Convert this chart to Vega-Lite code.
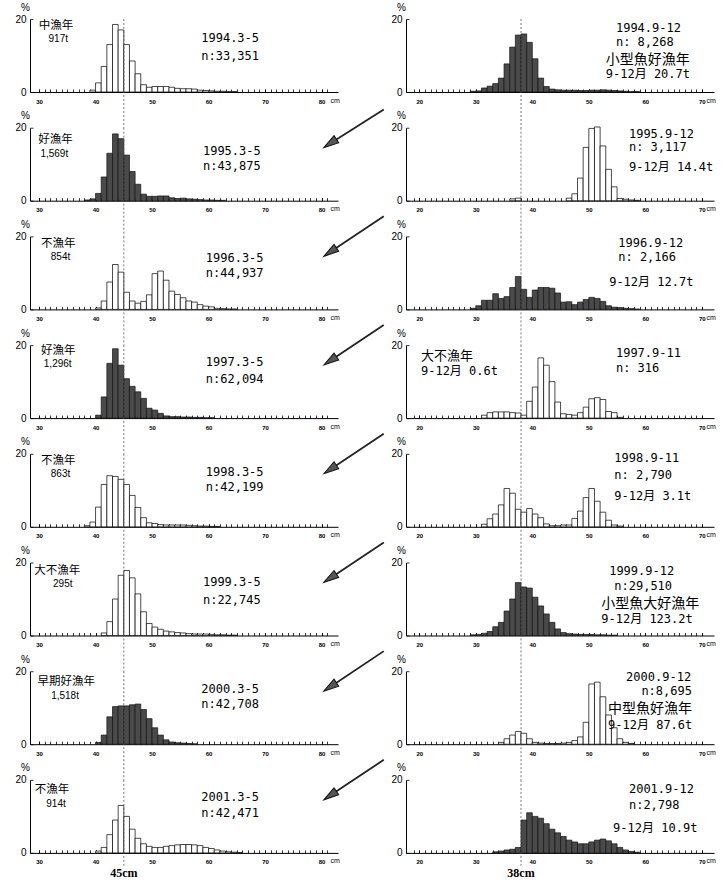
{
"$schema": "https://vega.github.io/schema/vega-lite/v6.json",
"background": "white",
"padding": {"left": 14, "top": 2, "right": 5, "bottom": 5},
"columns": 2,
"spacing": {"row": 35.7, "column": 68},
"bounds": "flush",
"config": {
 "view": {"stroke": null},
 "axis": {"grid": false, "domainColor": "black", "domainWidth": 1, "tickColor": "black", "tickWidth": 0.8, "labelColor": "black", "titleColor": "black", "labelFont": "Liberation Sans", "titleFont": "Liberation Sans"},
 "axisX": {"tickSize": -3, "labelFontSize": 6, "labelFontWeight": "bold", "labelPadding": 9, "titleFontSize": 7, "titleFontWeight": "normal"},
 "axisY": {"tickSize": -3, "labelFontSize": 10, "labelPadding": 7, "titleFontSize": 10, "titleFontWeight": "normal"},
 "text": {"font": "DejaVu Sans Mono, Noto Sans CJK JP", "fontSize": 12, "align": "left", "baseline": "middle", "color": "black"}
},
"datasets": {"bars": [
{"p":"L1","cm":39,"v":0.5},{"p":"L1","cm":40,"v":2.5},{"p":"L1","cm":41,"v":7},{"p":"L1","cm":42,"v":13},{"p":"L1","cm":43,"v":18.5},{"p":"L1","cm":44,"v":17},{"p":"L1","cm":45,"v":13},{"p":"L1","cm":46,"v":8.5},{"p":"L1","cm":47,"v":5},{"p":"L1","cm":48,"v":2},{"p":"L1","cm":49,"v":1.3},{"p":"L1","cm":50,"v":1.5},{"p":"L1","cm":51,"v":1.5},{"p":"L1","cm":52,"v":1.5},{"p":"L1","cm":53,"v":1.3},{"p":"L1","cm":54,"v":1},{"p":"L1","cm":55,"v":0.9},{"p":"L1","cm":56,"v":0.9},{"p":"L1","cm":57,"v":0.8},{"p":"L1","cm":58,"v":0.5},{"p":"L1","cm":59,"v":0.4},{"p":"L1","cm":60,"v":0.3},{"p":"L1","cm":61,"v":0.2},{"p":"L1","cm":62,"v":0.2},{"p":"L1","cm":63,"v":0.1},{"p":"L1","cm":64,"v":0.1},
{"p":"L2","cm":38,"v":0.2},{"p":"L2","cm":39,"v":0.5},{"p":"L2","cm":40,"v":2},{"p":"L2","cm":41,"v":6.5},{"p":"L2","cm":42,"v":13},{"p":"L2","cm":43,"v":18.3},{"p":"L2","cm":44,"v":17},{"p":"L2","cm":45,"v":12.5},{"p":"L2","cm":46,"v":8},{"p":"L2","cm":47,"v":4.5},{"p":"L2","cm":48,"v":1.8},{"p":"L2","cm":49,"v":1.2},{"p":"L2","cm":50,"v":1.2},{"p":"L2","cm":51,"v":1.3},{"p":"L2","cm":52,"v":1.3},{"p":"L2","cm":53,"v":0.8},{"p":"L2","cm":54,"v":0.6},{"p":"L2","cm":55,"v":0.7},{"p":"L2","cm":56,"v":0.5},{"p":"L2","cm":57,"v":0.4},{"p":"L2","cm":58,"v":0.3},{"p":"L2","cm":59,"v":0.2},{"p":"L2","cm":60,"v":0.2},{"p":"L2","cm":61,"v":0.1},{"p":"L2","cm":62,"v":0.1},
{"p":"L3","cm":40,"v":0.4},{"p":"L3","cm":41,"v":2.3},{"p":"L3","cm":42,"v":7.5},{"p":"L3","cm":43,"v":12.3},{"p":"L3","cm":44,"v":10.2},{"p":"L3","cm":45,"v":4.7},{"p":"L3","cm":46,"v":2.3},{"p":"L3","cm":47,"v":1.7},{"p":"L3","cm":48,"v":2.2},{"p":"L3","cm":49,"v":4},{"p":"L3","cm":50,"v":9.8},{"p":"L3","cm":51,"v":10.5},{"p":"L3","cm":52,"v":8},{"p":"L3","cm":53,"v":5},{"p":"L3","cm":54,"v":4.1},{"p":"L3","cm":55,"v":3.2},{"p":"L3","cm":56,"v":2.3},{"p":"L3","cm":57,"v":2},{"p":"L3","cm":58,"v":1.3},{"p":"L3","cm":59,"v":0.9},{"p":"L3","cm":60,"v":0.7},{"p":"L3","cm":61,"v":0.3},{"p":"L3","cm":62,"v":0.2},{"p":"L3","cm":63,"v":0.1},{"p":"L3","cm":64,"v":0.1},
{"p":"L4","cm":40,"v":0.8},{"p":"L4","cm":41,"v":5.8},{"p":"L4","cm":42,"v":15},{"p":"L4","cm":43,"v":19},{"p":"L4","cm":44,"v":14.5},{"p":"L4","cm":45,"v":10.8},{"p":"L4","cm":46,"v":8.7},{"p":"L4","cm":47,"v":7.2},{"p":"L4","cm":48,"v":5.4},{"p":"L4","cm":49,"v":2.7},{"p":"L4","cm":50,"v":2.2},{"p":"L4","cm":51,"v":1.3},{"p":"L4","cm":52,"v":0.6},{"p":"L4","cm":53,"v":0.4},{"p":"L4","cm":54,"v":0.4},{"p":"L4","cm":55,"v":0.3},{"p":"L4","cm":56,"v":0.3},{"p":"L4","cm":57,"v":0.2},{"p":"L4","cm":58,"v":0.2},{"p":"L4","cm":59,"v":0.1},{"p":"L4","cm":60,"v":0.1},
{"p":"L5","cm":38,"v":0.3},{"p":"L5","cm":39,"v":1.3},{"p":"L5","cm":40,"v":5.4},{"p":"L5","cm":41,"v":11.6},{"p":"L5","cm":42,"v":14},{"p":"L5","cm":43,"v":13.8},{"p":"L5","cm":44,"v":13},{"p":"L5","cm":45,"v":11.6},{"p":"L5","cm":46,"v":8.6},{"p":"L5","cm":47,"v":5.3},{"p":"L5","cm":48,"v":2.5},{"p":"L5","cm":49,"v":1.1},{"p":"L5","cm":50,"v":0.9},{"p":"L5","cm":51,"v":0.6},{"p":"L5","cm":52,"v":0.5},{"p":"L5","cm":53,"v":0.5},{"p":"L5","cm":54,"v":0.5},{"p":"L5","cm":55,"v":0.5},{"p":"L5","cm":56,"v":0.4},{"p":"L5","cm":57,"v":0.3},{"p":"L5","cm":58,"v":0.2},{"p":"L5","cm":59,"v":0.2},{"p":"L5","cm":60,"v":0.1},{"p":"L5","cm":61,"v":0.1},
{"p":"L6","cm":41,"v":0.7},{"p":"L6","cm":42,"v":3.8},{"p":"L6","cm":43,"v":10},{"p":"L6","cm":44,"v":16.5},{"p":"L6","cm":45,"v":17.8},{"p":"L6","cm":46,"v":15.8},{"p":"L6","cm":47,"v":11.4},{"p":"L6","cm":48,"v":6.5},{"p":"L6","cm":49,"v":3.3},{"p":"L6","cm":50,"v":2.3},{"p":"L6","cm":51,"v":1.7},{"p":"L6","cm":52,"v":1.2},{"p":"L6","cm":53,"v":1},{"p":"L6","cm":54,"v":0.8},{"p":"L6","cm":55,"v":0.7},{"p":"L6","cm":56,"v":0.5},{"p":"L6","cm":57,"v":0.4},{"p":"L6","cm":58,"v":0.4},{"p":"L6","cm":59,"v":0.4},{"p":"L6","cm":60,"v":0.3},{"p":"L6","cm":61,"v":0.2},{"p":"L6","cm":62,"v":0.2},{"p":"L6","cm":63,"v":0.1},{"p":"L6","cm":64,"v":0.1},
{"p":"L7","cm":40,"v":0.5},{"p":"L7","cm":41,"v":2.5},{"p":"L7","cm":42,"v":7.5},{"p":"L7","cm":43,"v":10.3},{"p":"L7","cm":44,"v":10.5},{"p":"L7","cm":45,"v":10.5},{"p":"L7","cm":46,"v":10.8},{"p":"L7","cm":47,"v":11},{"p":"L7","cm":48,"v":9.5},{"p":"L7","cm":49,"v":7},{"p":"L7","cm":50,"v":4.5},{"p":"L7","cm":51,"v":2.5},{"p":"L7","cm":52,"v":1.2},{"p":"L7","cm":53,"v":0.6},{"p":"L7","cm":54,"v":0.4},{"p":"L7","cm":55,"v":0.3},{"p":"L7","cm":56,"v":0.2},{"p":"L7","cm":57,"v":0.1},
{"p":"L8","cm":40,"v":0.5},{"p":"L8","cm":41,"v":1.5},{"p":"L8","cm":42,"v":5},{"p":"L8","cm":43,"v":9},{"p":"L8","cm":44,"v":13},{"p":"L8","cm":45,"v":10},{"p":"L8","cm":46,"v":6.5},{"p":"L8","cm":47,"v":4},{"p":"L8","cm":48,"v":2.5},{"p":"L8","cm":49,"v":1.8},{"p":"L8","cm":50,"v":1.5},{"p":"L8","cm":51,"v":1.5},{"p":"L8","cm":52,"v":1.8},{"p":"L8","cm":53,"v":2},{"p":"L8","cm":54,"v":2.2},{"p":"L8","cm":55,"v":2.3},{"p":"L8","cm":56,"v":2.3},{"p":"L8","cm":57,"v":2.2},{"p":"L8","cm":58,"v":2},{"p":"L8","cm":59,"v":1.5},{"p":"L8","cm":60,"v":1.2},{"p":"L8","cm":61,"v":0.8},{"p":"L8","cm":62,"v":0.5},{"p":"L8","cm":63,"v":0.3},{"p":"L8","cm":64,"v":0.2},{"p":"L8","cm":65,"v":0.1},
{"p":"R1","cm":29,"v":0.2},{"p":"R1","cm":30,"v":0.3},{"p":"R1","cm":31,"v":1.1},{"p":"R1","cm":32,"v":1.6},{"p":"R1","cm":33,"v":2.3},{"p":"R1","cm":34,"v":3.8},{"p":"R1","cm":35,"v":7.7},{"p":"R1","cm":36,"v":12.3},{"p":"R1","cm":37,"v":15.6},{"p":"R1","cm":38,"v":15.9},{"p":"R1","cm":39,"v":13.6},{"p":"R1","cm":40,"v":9.1},{"p":"R1","cm":41,"v":3.8},{"p":"R1","cm":42,"v":1.5},{"p":"R1","cm":43,"v":0.8},{"p":"R1","cm":44,"v":0.6},{"p":"R1","cm":45,"v":0.5},{"p":"R1","cm":46,"v":0.5},{"p":"R1","cm":47,"v":0.5},{"p":"R1","cm":48,"v":0.4},{"p":"R1","cm":49,"v":0.4},{"p":"R1","cm":50,"v":0.5},{"p":"R1","cm":51,"v":0.5},{"p":"R1","cm":52,"v":0.6},{"p":"R1","cm":53,"v":0.5},{"p":"R1","cm":54,"v":0.4},{"p":"R1","cm":55,"v":0.3},{"p":"R1","cm":56,"v":0.2},{"p":"R1","cm":57,"v":0.1},{"p":"R1","cm":58,"v":0.1},
{"p":"R2","cm":36,"v":0.5},{"p":"R2","cm":37,"v":0.7},{"p":"R2","cm":46,"v":0.7},{"p":"R2","cm":47,"v":1.9},{"p":"R2","cm":48,"v":6.2},{"p":"R2","cm":49,"v":14.6},{"p":"R2","cm":50,"v":19.8},{"p":"R2","cm":51,"v":20.2},{"p":"R2","cm":52,"v":15},{"p":"R2","cm":53,"v":8.6},{"p":"R2","cm":54,"v":3.8},{"p":"R2","cm":55,"v":0.6},{"p":"R2","cm":56,"v":0.4},{"p":"R2","cm":57,"v":0.2},{"p":"R2","cm":58,"v":0.1},
{"p":"R3","cm":29,"v":0.3},{"p":"R3","cm":30,"v":1},{"p":"R3","cm":31,"v":2.5},{"p":"R3","cm":32,"v":2.5},{"p":"R3","cm":33,"v":4.3},{"p":"R3","cm":34,"v":3},{"p":"R3","cm":35,"v":3.5},{"p":"R3","cm":36,"v":6},{"p":"R3","cm":37,"v":9},{"p":"R3","cm":38,"v":5.5},{"p":"R3","cm":39,"v":3.3},{"p":"R3","cm":40,"v":5.3},{"p":"R3","cm":41,"v":6},{"p":"R3","cm":42,"v":6},{"p":"R3","cm":43,"v":5.8},{"p":"R3","cm":44,"v":4.5},{"p":"R3","cm":45,"v":2},{"p":"R3","cm":46,"v":2.1},{"p":"R3","cm":47,"v":1.3},{"p":"R3","cm":48,"v":2},{"p":"R3","cm":49,"v":2.7},{"p":"R3","cm":50,"v":3.3},{"p":"R3","cm":51,"v":3},{"p":"R3","cm":52,"v":2.2},{"p":"R3","cm":53,"v":1},{"p":"R3","cm":54,"v":0.6},{"p":"R3","cm":55,"v":0.5},{"p":"R3","cm":56,"v":0.3},{"p":"R3","cm":57,"v":0.2},{"p":"R3","cm":58,"v":0.1},
{"p":"R4","cm":31,"v":0.8},{"p":"R4","cm":32,"v":1.5},{"p":"R4","cm":33,"v":1.7},{"p":"R4","cm":34,"v":1.7},{"p":"R4","cm":35,"v":1.7},{"p":"R4","cm":36,"v":1.5},{"p":"R4","cm":37,"v":1.4},{"p":"R4","cm":38,"v":0.8},{"p":"R4","cm":39,"v":4.6},{"p":"R4","cm":40,"v":8.5},{"p":"R4","cm":41,"v":16.5},{"p":"R4","cm":42,"v":14.5},{"p":"R4","cm":43,"v":10},{"p":"R4","cm":44,"v":4.4},{"p":"R4","cm":45,"v":1.2},{"p":"R4","cm":46,"v":1},{"p":"R4","cm":47,"v":0.8},{"p":"R4","cm":48,"v":1.5},{"p":"R4","cm":49,"v":3},{"p":"R4","cm":50,"v":5.3},{"p":"R4","cm":51,"v":5.6},{"p":"R4","cm":52,"v":5.1},{"p":"R4","cm":53,"v":1.8},{"p":"R4","cm":54,"v":1.5},{"p":"R4","cm":55,"v":0.2},
{"p":"R5","cm":31,"v":0.7},{"p":"R5","cm":32,"v":2.2},{"p":"R5","cm":33,"v":3.5},{"p":"R5","cm":34,"v":6},{"p":"R5","cm":35,"v":10.5},{"p":"R5","cm":36,"v":9.2},{"p":"R5","cm":37,"v":4.8},{"p":"R5","cm":38,"v":4},{"p":"R5","cm":39,"v":5},{"p":"R5","cm":40,"v":3.5},{"p":"R5","cm":41,"v":2.5},{"p":"R5","cm":42,"v":0.8},{"p":"R5","cm":43,"v":0.3},{"p":"R5","cm":44,"v":0.3},{"p":"R5","cm":45,"v":0.5},{"p":"R5","cm":46,"v":0.5},{"p":"R5","cm":47,"v":2.3},{"p":"R5","cm":48,"v":4.3},{"p":"R5","cm":49,"v":8},{"p":"R5","cm":50,"v":10.5},{"p":"R5","cm":51,"v":7},{"p":"R5","cm":52,"v":4},{"p":"R5","cm":53,"v":1.8},{"p":"R5","cm":54,"v":0.5},{"p":"R5","cm":55,"v":0.2},
{"p":"R6","cm":29,"v":0.2},{"p":"R6","cm":30,"v":0.3},{"p":"R6","cm":31,"v":0.6},{"p":"R6","cm":32,"v":1.1},{"p":"R6","cm":33,"v":2.4},{"p":"R6","cm":34,"v":3.6},{"p":"R6","cm":35,"v":6.7},{"p":"R6","cm":36,"v":10},{"p":"R6","cm":37,"v":14.5},{"p":"R6","cm":38,"v":13.3},{"p":"R6","cm":39,"v":13},{"p":"R6","cm":40,"v":10.5},{"p":"R6","cm":41,"v":8.1},{"p":"R6","cm":42,"v":5.9},{"p":"R6","cm":43,"v":3.6},{"p":"R6","cm":44,"v":1.8},{"p":"R6","cm":45,"v":0.8},{"p":"R6","cm":46,"v":0.5},{"p":"R6","cm":47,"v":0.4},{"p":"R6","cm":48,"v":0.3},{"p":"R6","cm":49,"v":0.3},{"p":"R6","cm":50,"v":0.3},{"p":"R6","cm":51,"v":0.2},{"p":"R6","cm":52,"v":0.2},{"p":"R6","cm":53,"v":0.1},{"p":"R6","cm":54,"v":0.1},
{"p":"R7","cm":34,"v":0.5},{"p":"R7","cm":35,"v":1.5},{"p":"R7","cm":36,"v":2.5},{"p":"R7","cm":37,"v":3.5},{"p":"R7","cm":38,"v":3},{"p":"R7","cm":39,"v":1.5},{"p":"R7","cm":40,"v":0.5},{"p":"R7","cm":41,"v":0.3},{"p":"R7","cm":42,"v":0.2},{"p":"R7","cm":43,"v":0.2},{"p":"R7","cm":44,"v":0.2},{"p":"R7","cm":45,"v":0.3},{"p":"R7","cm":46,"v":0.5},{"p":"R7","cm":47,"v":1},{"p":"R7","cm":48,"v":2},{"p":"R7","cm":49,"v":6},{"p":"R7","cm":50,"v":16.5},{"p":"R7","cm":51,"v":17},{"p":"R7","cm":52,"v":13},{"p":"R7","cm":53,"v":8},{"p":"R7","cm":54,"v":4.5},{"p":"R7","cm":55,"v":1.5},{"p":"R7","cm":56,"v":0.5},{"p":"R7","cm":57,"v":0.2},
{"p":"R8","cm":33,"v":0.3},{"p":"R8","cm":34,"v":0.5},{"p":"R8","cm":35,"v":0.8},{"p":"R8","cm":36,"v":1},{"p":"R8","cm":37,"v":1.5},{"p":"R8","cm":38,"v":9},{"p":"R8","cm":39,"v":11},{"p":"R8","cm":40,"v":10},{"p":"R8","cm":41,"v":9.5},{"p":"R8","cm":42,"v":8},{"p":"R8","cm":43,"v":6.5},{"p":"R8","cm":44,"v":5.5},{"p":"R8","cm":45,"v":4.5},{"p":"R8","cm":46,"v":3.5},{"p":"R8","cm":47,"v":3},{"p":"R8","cm":48,"v":2.5},{"p":"R8","cm":49,"v":2.5},{"p":"R8","cm":50,"v":3},{"p":"R8","cm":51,"v":3.5},{"p":"R8","cm":52,"v":3.8},{"p":"R8","cm":53,"v":3.3},{"p":"R8","cm":54,"v":2.5},{"p":"R8","cm":55,"v":1.5},{"p":"R8","cm":56,"v":0.8},{"p":"R8","cm":57,"v":0.4},{"p":"R8","cm":58,"v":0.2}
]},
"concat": [
{"width":308,"height":73,"resolve":{"axis":{"x":"independent"}},"layer":[
 {"data":{"name":"bars"},"transform":[{"filter":"datum.p === 'L1'"},{"bin":{"step":1,"extent":[0,100]},"field":"cm","as":["lo","hi"]}],"mark":{"type":"rect","fill":"white","stroke":"black","strokeWidth":0.7},
  "encoding":{"x":{"field":"lo","type":"quantitative","scale":{"domain":[28.4,82.9],"nice":false,"zero":false},"axis":{"title":"cm","values":[30,40,50,60,70,80],"labelFlush":false,"labelOverlap":false,"titleX":300,"titleY":4,"titleAlign":"left","titleBaseline":"top"}},"x2":{"field":"hi"},
  "y":{"field":"v","type":"quantitative","scale":{"domain":[0,20],"nice":false},"axis":{"title":"%","values":[0,5,10,15,20],"labelExpr":"datum.value % 10 === 0 ? datum.label : ''","titleAngle":0,"titleX":-5,"titleY":-12,"titleAlign":"center","titleBaseline":"middle"}},"y2":{"datum":0}}},
 {"data":{"values":[{}]},"mark":{"type":"rule","color":"#555","strokeWidth":0.8,"strokeDash":[2,2]},"encoding":{"x":{"datum":45,"axis":{"orient":"bottom","values":[30,31,32,33,34,35,36,37,38,39,40,41,42,43,44,45,46,47,48,49,50,51,52,53,54,55,56,57,58,59,60,61,62,63,64,65,66,67,68,69,70,71,72,73,74,75,76,77,78,79,80,81],"labels":false,"domain":false,"title":null}},"y":{"datum":20},"y2":{"datum":-9.8}}},
 {"data":{"values":[{"t":"中漁年"}]},"mark":{"type":"text","font":"Noto Sans CJK JP","fontSize":11.5,"align":"center"},"encoding":{"x":{"datum":33,"axis":null},"y":{"datum":18.1},"text":{"field":"t"}}},
 {"data":{"values":[{"t":"917t"}]},"mark":{"type":"text","font":"Liberation Sans","fontSize":10,"align":"center"},"encoding":{"x":{"datum":33.4,"axis":null},"y":{"datum":14.6},"text":{"field":"t"}}},
 {"data":{"values":[{"t":"1994.3-5"}]},"mark":{"type":"text"},"encoding":{"x":{"datum":58.7,"axis":null},"y":{"datum":14.9},"text":{"field":"t"}}},
 {"data":{"values":[{"t":"n:33,351"}]},"mark":{"type":"text"},"encoding":{"x":{"datum":58.7,"axis":null},"y":{"datum":10},"text":{"field":"t"}}}
]},
{"width":308,"height":73,"resolve":{"axis":{"x":"independent"}},"layer":[
 {"data":{"name":"bars"},"transform":[{"filter":"datum.p === 'R1'"},{"bin":{"step":1,"extent":[0,100]},"field":"cm","as":["lo","hi"]}],"mark":{"type":"rect","fill":"#4a4a4a","stroke":"#111","strokeWidth":0.7},
  "encoding":{"x":{"field":"lo","type":"quantitative","scale":{"domain":[17.65,72.15],"nice":false,"zero":false},"axis":{"title":"cm","values":[20,30,40,50,60,70],"labelFlush":false,"labelOverlap":false,"titleX":300,"titleY":4,"titleAlign":"left","titleBaseline":"top"}},"x2":{"field":"hi"},
  "y":{"field":"v","type":"quantitative","scale":{"domain":[0,20],"nice":false},"axis":{"title":"%","values":[0,5,10,15,20],"labelExpr":"datum.value % 10 === 0 ? datum.label : ''","titleAngle":0,"titleX":-5,"titleY":-12,"titleAlign":"center","titleBaseline":"middle"}},"y2":{"datum":0}}},
 {"data":{"values":[{}]},"mark":{"type":"rule","color":"#555","strokeWidth":0.8,"strokeDash":[2,2]},"encoding":{"x":{"datum":38,"axis":{"orient":"bottom","values":[19,20,21,22,23,24,25,26,27,28,29,30,31,32,33,34,35,36,37,38,39,40,41,42,43,44,45,46,47,48,49,50,51,52,53,54,55,56,57,58,59,60,61,62,63,64,65,66,67,68,69,70],"labels":false,"domain":false,"title":null}},"y":{"datum":20},"y2":{"datum":-9.8}}},
 {"data":{"values":[{"t":"1994.9-12"}]},"mark":{"type":"text"},"encoding":{"x":{"datum":54.8,"axis":null},"y":{"datum":17.5},"text":{"field":"t"}}},
 {"data":{"values":[{"t":"n: 8,268"}]},"mark":{"type":"text"},"encoding":{"x":{"datum":54.8,"axis":null},"y":{"datum":13.7},"text":{"field":"t"}}},
 {"data":{"values":[{"t":"小型魚好漁年"}]},"mark":{"type":"text","font":"Noto Sans CJK JP","fontSize":14},"encoding":{"x":{"datum":53,"axis":null},"y":{"datum":8.8},"text":{"field":"t"}}},
 {"data":{"values":[{"t":"9-12月 20.7t"}]},"mark":{"type":"text"},"encoding":{"x":{"datum":53,"axis":null},"y":{"datum":4.8},"text":{"field":"t"}}}
]},
{"width":308,"height":73,"resolve":{"axis":{"x":"independent"}},"layer":[
 {"data":{"name":"bars"},"transform":[{"filter":"datum.p === 'L2'"},{"bin":{"step":1,"extent":[0,100]},"field":"cm","as":["lo","hi"]}],"mark":{"type":"rect","fill":"#4a4a4a","stroke":"#111","strokeWidth":0.7},
  "encoding":{"x":{"field":"lo","type":"quantitative","scale":{"domain":[28.4,82.9],"nice":false,"zero":false},"axis":{"title":"cm","values":[30,40,50,60,70,80],"labelFlush":false,"labelOverlap":false,"titleX":300,"titleY":4,"titleAlign":"left","titleBaseline":"top"}},"x2":{"field":"hi"},
  "y":{"field":"v","type":"quantitative","scale":{"domain":[0,20],"nice":false},"axis":{"title":"%","values":[0,5,10,15,20],"labelExpr":"datum.value % 10 === 0 ? datum.label : ''","titleAngle":0,"titleX":-5,"titleY":-12,"titleAlign":"center","titleBaseline":"middle"}},"y2":{"datum":0}}},
 {"data":{"values":[{}]},"mark":{"type":"rule","color":"#555","strokeWidth":0.8,"strokeDash":[2,2]},"encoding":{"x":{"datum":45,"axis":{"orient":"bottom","values":[30,31,32,33,34,35,36,37,38,39,40,41,42,43,44,45,46,47,48,49,50,51,52,53,54,55,56,57,58,59,60,61,62,63,64,65,66,67,68,69,70,71,72,73,74,75,76,77,78,79,80,81],"labels":false,"domain":false,"title":null}},"y":{"datum":20},"y2":{"datum":-9.8}}},
 {"data":{"values":[{"t":"好漁年"}]},"mark":{"type":"text","font":"Noto Sans CJK JP","fontSize":11.5,"align":"center"},"encoding":{"x":{"datum":32.9,"axis":null},"y":{"datum":16.5},"text":{"field":"t"}}},
 {"data":{"values":[{"t":"1,569t"}]},"mark":{"type":"text","font":"Liberation Sans","fontSize":10,"align":"center"},"encoding":{"x":{"datum":32.7,"axis":null},"y":{"datum":12.8},"text":{"field":"t"}}},
 {"data":{"values":[{"t":"1995.3-5"}]},"mark":{"type":"text"},"encoding":{"x":{"datum":59,"axis":null},"y":{"datum":13.6},"text":{"field":"t"}}},
 {"data":{"values":[{"t":"n:43,875"}]},"mark":{"type":"text"},"encoding":{"x":{"datum":59,"axis":null},"y":{"datum":9.5},"text":{"field":"t"}}},
 {"data":{"values":[{}]},"mark":{"type":"rule","color":"#222","strokeWidth":1.8},"encoding":{"x":{"datum":91,"axis":null},"y":{"datum":25},"x2":{"datum":81.5},"y2":{"datum":15.7}}},
 {"data":{"values":[{}]},"mark":{"type":"point","shape":"M0,-1L0.55,1L-0.55,1Z","size":230,"angle":236,"filled":true,"fill":"#555","stroke":"#111","strokeWidth":1,"opacity":1},"encoding":{"x":{"datum":81.5,"axis":null},"y":{"datum":15.7}}}
]},
{"width":308,"height":73,"resolve":{"axis":{"x":"independent"}},"layer":[
 {"data":{"name":"bars"},"transform":[{"filter":"datum.p === 'R2'"},{"bin":{"step":1,"extent":[0,100]},"field":"cm","as":["lo","hi"]}],"mark":{"type":"rect","fill":"white","stroke":"black","strokeWidth":0.7},
  "encoding":{"x":{"field":"lo","type":"quantitative","scale":{"domain":[17.65,72.15],"nice":false,"zero":false},"axis":{"title":"cm","values":[20,30,40,50,60,70],"labelFlush":false,"labelOverlap":false,"titleX":300,"titleY":4,"titleAlign":"left","titleBaseline":"top"}},"x2":{"field":"hi"},
  "y":{"field":"v","type":"quantitative","scale":{"domain":[0,20],"nice":false},"axis":{"title":"%","values":[0,5,10,15,20],"labelExpr":"datum.value % 10 === 0 ? datum.label : ''","titleAngle":0,"titleX":-5,"titleY":-12,"titleAlign":"center","titleBaseline":"middle"}},"y2":{"datum":0}}},
 {"data":{"values":[{}]},"mark":{"type":"rule","color":"#555","strokeWidth":0.8,"strokeDash":[2,2]},"encoding":{"x":{"datum":38,"axis":{"orient":"bottom","values":[19,20,21,22,23,24,25,26,27,28,29,30,31,32,33,34,35,36,37,38,39,40,41,42,43,44,45,46,47,48,49,50,51,52,53,54,55,56,57,58,59,60,61,62,63,64,65,66,67,68,69,70],"labels":false,"domain":false,"title":null}},"y":{"datum":20},"y2":{"datum":-9.8}}},
 {"data":{"values":[{"t":"1995.9-12"}]},"mark":{"type":"text"},"encoding":{"x":{"datum":57.1,"axis":null},"y":{"datum":18.3},"text":{"field":"t"}}},
 {"data":{"values":[{"t":"n: 3,117"}]},"mark":{"type":"text"},"encoding":{"x":{"datum":57.1,"axis":null},"y":{"datum":14.6},"text":{"field":"t"}}},
 {"data":{"values":[{"t":"9-12月 14.4t"}]},"mark":{"type":"text"},"encoding":{"x":{"datum":57.1,"axis":null},"y":{"datum":9.3},"text":{"field":"t"}}}
]},
{"width":308,"height":73,"resolve":{"axis":{"x":"independent"}},"layer":[
 {"data":{"name":"bars"},"transform":[{"filter":"datum.p === 'L3'"},{"bin":{"step":1,"extent":[0,100]},"field":"cm","as":["lo","hi"]}],"mark":{"type":"rect","fill":"white","stroke":"black","strokeWidth":0.7},
  "encoding":{"x":{"field":"lo","type":"quantitative","scale":{"domain":[28.4,82.9],"nice":false,"zero":false},"axis":{"title":"cm","values":[30,40,50,60,70,80],"labelFlush":false,"labelOverlap":false,"titleX":300,"titleY":4,"titleAlign":"left","titleBaseline":"top"}},"x2":{"field":"hi"},
  "y":{"field":"v","type":"quantitative","scale":{"domain":[0,20],"nice":false},"axis":{"title":"%","values":[0,5,10,15,20],"labelExpr":"datum.value % 10 === 0 ? datum.label : ''","titleAngle":0,"titleX":-5,"titleY":-12,"titleAlign":"center","titleBaseline":"middle"}},"y2":{"datum":0}}},
 {"data":{"values":[{}]},"mark":{"type":"rule","color":"#555","strokeWidth":0.8,"strokeDash":[2,2]},"encoding":{"x":{"datum":45,"axis":{"orient":"bottom","values":[30,31,32,33,34,35,36,37,38,39,40,41,42,43,44,45,46,47,48,49,50,51,52,53,54,55,56,57,58,59,60,61,62,63,64,65,66,67,68,69,70,71,72,73,74,75,76,77,78,79,80,81],"labels":false,"domain":false,"title":null}},"y":{"datum":20},"y2":{"datum":-9.8}}},
 {"data":{"values":[{"t":"不漁年"}]},"mark":{"type":"text","font":"Noto Sans CJK JP","fontSize":11.5,"align":"center"},"encoding":{"x":{"datum":33.4,"axis":null},"y":{"datum":17.9},"text":{"field":"t"}}},
 {"data":{"values":[{"t":"854t"}]},"mark":{"type":"text","font":"Liberation Sans","fontSize":10,"align":"center"},"encoding":{"x":{"datum":33.8,"axis":null},"y":{"datum":14.3},"text":{"field":"t"}}},
 {"data":{"values":[{"t":"1996.3-5"}]},"mark":{"type":"text"},"encoding":{"x":{"datum":59.5,"axis":null},"y":{"datum":14.2},"text":{"field":"t"}}},
 {"data":{"values":[{"t":"n:44,937"}]},"mark":{"type":"text"},"encoding":{"x":{"datum":59.5,"axis":null},"y":{"datum":9.9},"text":{"field":"t"}}},
 {"data":{"values":[{}]},"mark":{"type":"rule","color":"#222","strokeWidth":1.8},"encoding":{"x":{"datum":91,"axis":null},"y":{"datum":25.5},"x2":{"datum":81.5},"y2":{"datum":15.7}}},
 {"data":{"values":[{}]},"mark":{"type":"point","shape":"M0,-1L0.55,1L-0.55,1Z","size":230,"angle":236,"filled":true,"fill":"#555","stroke":"#111","strokeWidth":1,"opacity":1},"encoding":{"x":{"datum":81.5,"axis":null},"y":{"datum":15.7}}}
]},
{"width":308,"height":73,"resolve":{"axis":{"x":"independent"}},"layer":[
 {"data":{"name":"bars"},"transform":[{"filter":"datum.p === 'R3'"},{"bin":{"step":1,"extent":[0,100]},"field":"cm","as":["lo","hi"]}],"mark":{"type":"rect","fill":"#4a4a4a","stroke":"#111","strokeWidth":0.7},
  "encoding":{"x":{"field":"lo","type":"quantitative","scale":{"domain":[17.65,72.15],"nice":false,"zero":false},"axis":{"title":"cm","values":[20,30,40,50,60,70],"labelFlush":false,"labelOverlap":false,"titleX":300,"titleY":4,"titleAlign":"left","titleBaseline":"top"}},"x2":{"field":"hi"},
  "y":{"field":"v","type":"quantitative","scale":{"domain":[0,20],"nice":false},"axis":{"title":"%","values":[0,5,10,15,20],"labelExpr":"datum.value % 10 === 0 ? datum.label : ''","titleAngle":0,"titleX":-5,"titleY":-12,"titleAlign":"center","titleBaseline":"middle"}},"y2":{"datum":0}}},
 {"data":{"values":[{}]},"mark":{"type":"rule","color":"#555","strokeWidth":0.8,"strokeDash":[2,2]},"encoding":{"x":{"datum":38,"axis":{"orient":"bottom","values":[19,20,21,22,23,24,25,26,27,28,29,30,31,32,33,34,35,36,37,38,39,40,41,42,43,44,45,46,47,48,49,50,51,52,53,54,55,56,57,58,59,60,61,62,63,64,65,66,67,68,69,70],"labels":false,"domain":false,"title":null}},"y":{"datum":20},"y2":{"datum":-9.8}}},
 {"data":{"values":[{"t":"1996.9-12"}]},"mark":{"type":"text"},"encoding":{"x":{"datum":55.2,"axis":null},"y":{"datum":18.3},"text":{"field":"t"}}},
 {"data":{"values":[{"t":"n: 2,166"}]},"mark":{"type":"text"},"encoding":{"x":{"datum":55.2,"axis":null},"y":{"datum":14.4},"text":{"field":"t"}}},
 {"data":{"values":[{"t":"9-12月 12.7t"}]},"mark":{"type":"text"},"encoding":{"x":{"datum":53.6,"axis":null},"y":{"datum":7.5},"text":{"field":"t"}}}
]},
{"width":308,"height":73,"resolve":{"axis":{"x":"independent"}},"layer":[
 {"data":{"name":"bars"},"transform":[{"filter":"datum.p === 'L4'"},{"bin":{"step":1,"extent":[0,100]},"field":"cm","as":["lo","hi"]}],"mark":{"type":"rect","fill":"#4a4a4a","stroke":"#111","strokeWidth":0.7},
  "encoding":{"x":{"field":"lo","type":"quantitative","scale":{"domain":[28.4,82.9],"nice":false,"zero":false},"axis":{"title":"cm","values":[30,40,50,60,70,80],"labelFlush":false,"labelOverlap":false,"titleX":300,"titleY":4,"titleAlign":"left","titleBaseline":"top"}},"x2":{"field":"hi"},
  "y":{"field":"v","type":"quantitative","scale":{"domain":[0,20],"nice":false},"axis":{"title":"%","values":[0,5,10,15,20],"labelExpr":"datum.value % 10 === 0 ? datum.label : ''","titleAngle":0,"titleX":-5,"titleY":-12,"titleAlign":"center","titleBaseline":"middle"}},"y2":{"datum":0}}},
 {"data":{"values":[{}]},"mark":{"type":"rule","color":"#555","strokeWidth":0.8,"strokeDash":[2,2]},"encoding":{"x":{"datum":45,"axis":{"orient":"bottom","values":[30,31,32,33,34,35,36,37,38,39,40,41,42,43,44,45,46,47,48,49,50,51,52,53,54,55,56,57,58,59,60,61,62,63,64,65,66,67,68,69,70,71,72,73,74,75,76,77,78,79,80,81],"labels":false,"domain":false,"title":null}},"y":{"datum":20},"y2":{"datum":-9.8}}},
 {"data":{"values":[{"t":"好漁年"}]},"mark":{"type":"text","font":"Noto Sans CJK JP","fontSize":11.5,"align":"center"},"encoding":{"x":{"datum":33.4,"axis":null},"y":{"datum":18.3},"text":{"field":"t"}}},
 {"data":{"values":[{"t":"1,296t"}]},"mark":{"type":"text","font":"Liberation Sans","fontSize":10,"align":"center"},"encoding":{"x":{"datum":33.3,"axis":null},"y":{"datum":14.8},"text":{"field":"t"}}},
 {"data":{"values":[{"t":"1997.3-5"}]},"mark":{"type":"text"},"encoding":{"x":{"datum":59.5,"axis":null},"y":{"datum":15.5},"text":{"field":"t"}}},
 {"data":{"values":[{"t":"n:62,094"}]},"mark":{"type":"text"},"encoding":{"x":{"datum":59.5,"axis":null},"y":{"datum":10.8},"text":{"field":"t"}}},
 {"data":{"values":[{}]},"mark":{"type":"rule","color":"#222","strokeWidth":1.8},"encoding":{"x":{"datum":91,"axis":null},"y":{"datum":25.5},"x2":{"datum":81.5},"y2":{"datum":15.7}}},
 {"data":{"values":[{}]},"mark":{"type":"point","shape":"M0,-1L0.55,1L-0.55,1Z","size":230,"angle":236,"filled":true,"fill":"#555","stroke":"#111","strokeWidth":1,"opacity":1},"encoding":{"x":{"datum":81.5,"axis":null},"y":{"datum":15.7}}}
]},
{"width":308,"height":73,"resolve":{"axis":{"x":"independent"}},"layer":[
 {"data":{"name":"bars"},"transform":[{"filter":"datum.p === 'R4'"},{"bin":{"step":1,"extent":[0,100]},"field":"cm","as":["lo","hi"]}],"mark":{"type":"rect","fill":"white","stroke":"black","strokeWidth":0.7},
  "encoding":{"x":{"field":"lo","type":"quantitative","scale":{"domain":[17.65,72.15],"nice":false,"zero":false},"axis":{"title":"cm","values":[20,30,40,50,60,70],"labelFlush":false,"labelOverlap":false,"titleX":300,"titleY":4,"titleAlign":"left","titleBaseline":"top"}},"x2":{"field":"hi"},
  "y":{"field":"v","type":"quantitative","scale":{"domain":[0,20],"nice":false},"axis":{"title":"%","values":[0,5,10,15,20],"labelExpr":"datum.value % 10 === 0 ? datum.label : ''","titleAngle":0,"titleX":-5,"titleY":-12,"titleAlign":"center","titleBaseline":"middle"}},"y2":{"datum":0}}},
 {"data":{"values":[{}]},"mark":{"type":"rule","color":"#555","strokeWidth":0.8,"strokeDash":[2,2]},"encoding":{"x":{"datum":38,"axis":{"orient":"bottom","values":[19,20,21,22,23,24,25,26,27,28,29,30,31,32,33,34,35,36,37,38,39,40,41,42,43,44,45,46,47,48,49,50,51,52,53,54,55,56,57,58,59,60,61,62,63,64,65,66,67,68,69,70],"labels":false,"domain":false,"title":null}},"y":{"datum":20},"y2":{"datum":-9.8}}},
 {"data":{"values":[{"t":"大不漁年"}]},"mark":{"type":"text","font":"Noto Sans CJK JP","fontSize":13},"encoding":{"x":{"datum":20.3,"axis":null},"y":{"datum":16.9},"text":{"field":"t"}}},
 {"data":{"values":[{"t":"9-12月 0.6t"}]},"mark":{"type":"text"},"encoding":{"x":{"datum":20.3,"axis":null},"y":{"datum":12.9},"text":{"field":"t"}}},
 {"data":{"values":[{"t":"1997.9-11"}]},"mark":{"type":"text"},"encoding":{"x":{"datum":54.8,"axis":null},"y":{"datum":17.7},"text":{"field":"t"}}},
 {"data":{"values":[{"t":"n:   316"}]},"mark":{"type":"text"},"encoding":{"x":{"datum":54.8,"axis":null},"y":{"datum":13.8},"text":{"field":"t"}}}
]},
{"width":308,"height":73,"resolve":{"axis":{"x":"independent"}},"layer":[
 {"data":{"name":"bars"},"transform":[{"filter":"datum.p === 'L5'"},{"bin":{"step":1,"extent":[0,100]},"field":"cm","as":["lo","hi"]}],"mark":{"type":"rect","fill":"white","stroke":"black","strokeWidth":0.7},
  "encoding":{"x":{"field":"lo","type":"quantitative","scale":{"domain":[28.4,82.9],"nice":false,"zero":false},"axis":{"title":"cm","values":[30,40,50,60,70,80],"labelFlush":false,"labelOverlap":false,"titleX":300,"titleY":4,"titleAlign":"left","titleBaseline":"top"}},"x2":{"field":"hi"},
  "y":{"field":"v","type":"quantitative","scale":{"domain":[0,20],"nice":false},"axis":{"title":"%","values":[0,5,10,15,20],"labelExpr":"datum.value % 10 === 0 ? datum.label : ''","titleAngle":0,"titleX":-5,"titleY":-12,"titleAlign":"center","titleBaseline":"middle"}},"y2":{"datum":0}}},
 {"data":{"values":[{}]},"mark":{"type":"rule","color":"#555","strokeWidth":0.8,"strokeDash":[2,2]},"encoding":{"x":{"datum":45,"axis":{"orient":"bottom","values":[30,31,32,33,34,35,36,37,38,39,40,41,42,43,44,45,46,47,48,49,50,51,52,53,54,55,56,57,58,59,60,61,62,63,64,65,66,67,68,69,70,71,72,73,74,75,76,77,78,79,80,81],"labels":false,"domain":false,"title":null}},"y":{"datum":20},"y2":{"datum":-9.8}}},
 {"data":{"values":[{"t":"不漁年"}]},"mark":{"type":"text","font":"Noto Sans CJK JP","fontSize":11.5,"align":"center"},"encoding":{"x":{"datum":33.4,"axis":null},"y":{"datum":18},"text":{"field":"t"}}},
 {"data":{"values":[{"t":"863t"}]},"mark":{"type":"text","font":"Liberation Sans","fontSize":10,"align":"center"},"encoding":{"x":{"datum":33.8,"axis":null},"y":{"datum":14.4},"text":{"field":"t"}}},
 {"data":{"values":[{"t":"1998.3-5"}]},"mark":{"type":"text"},"encoding":{"x":{"datum":59.5,"axis":null},"y":{"datum":15},"text":{"field":"t"}}},
 {"data":{"values":[{"t":"n:42,199"}]},"mark":{"type":"text"},"encoding":{"x":{"datum":59.5,"axis":null},"y":{"datum":10.8},"text":{"field":"t"}}},
 {"data":{"values":[{}]},"mark":{"type":"rule","color":"#222","strokeWidth":1.8},"encoding":{"x":{"datum":91,"axis":null},"y":{"datum":25.5},"x2":{"datum":81.5},"y2":{"datum":15.7}}},
 {"data":{"values":[{}]},"mark":{"type":"point","shape":"M0,-1L0.55,1L-0.55,1Z","size":230,"angle":236,"filled":true,"fill":"#555","stroke":"#111","strokeWidth":1,"opacity":1},"encoding":{"x":{"datum":81.5,"axis":null},"y":{"datum":15.7}}}
]},
{"width":308,"height":73,"resolve":{"axis":{"x":"independent"}},"layer":[
 {"data":{"name":"bars"},"transform":[{"filter":"datum.p === 'R5'"},{"bin":{"step":1,"extent":[0,100]},"field":"cm","as":["lo","hi"]}],"mark":{"type":"rect","fill":"white","stroke":"black","strokeWidth":0.7},
  "encoding":{"x":{"field":"lo","type":"quantitative","scale":{"domain":[17.65,72.15],"nice":false,"zero":false},"axis":{"title":"cm","values":[20,30,40,50,60,70],"labelFlush":false,"labelOverlap":false,"titleX":300,"titleY":4,"titleAlign":"left","titleBaseline":"top"}},"x2":{"field":"hi"},
  "y":{"field":"v","type":"quantitative","scale":{"domain":[0,20],"nice":false},"axis":{"title":"%","values":[0,5,10,15,20],"labelExpr":"datum.value % 10 === 0 ? datum.label : ''","titleAngle":0,"titleX":-5,"titleY":-12,"titleAlign":"center","titleBaseline":"middle"}},"y2":{"datum":0}}},
 {"data":{"values":[{}]},"mark":{"type":"rule","color":"#555","strokeWidth":0.8,"strokeDash":[2,2]},"encoding":{"x":{"datum":38,"axis":{"orient":"bottom","values":[19,20,21,22,23,24,25,26,27,28,29,30,31,32,33,34,35,36,37,38,39,40,41,42,43,44,45,46,47,48,49,50,51,52,53,54,55,56,57,58,59,60,61,62,63,64,65,66,67,68,69,70],"labels":false,"domain":false,"title":null}},"y":{"datum":20},"y2":{"datum":-9.8}}},
 {"data":{"values":[{"t":"1998.9-11"}]},"mark":{"type":"text"},"encoding":{"x":{"datum":54.5,"axis":null},"y":{"datum":18.8},"text":{"field":"t"}}},
 {"data":{"values":[{"t":"n: 2,790"}]},"mark":{"type":"text"},"encoding":{"x":{"datum":54.5,"axis":null},"y":{"datum":14.2},"text":{"field":"t"}}},
 {"data":{"values":[{"t":"9-12月 3.1t"}]},"mark":{"type":"text"},"encoding":{"x":{"datum":54.5,"axis":null},"y":{"datum":8.5},"text":{"field":"t"}}}
]},
{"width":308,"height":73,"resolve":{"axis":{"x":"independent"}},"layer":[
 {"data":{"name":"bars"},"transform":[{"filter":"datum.p === 'L6'"},{"bin":{"step":1,"extent":[0,100]},"field":"cm","as":["lo","hi"]}],"mark":{"type":"rect","fill":"white","stroke":"black","strokeWidth":0.7},
  "encoding":{"x":{"field":"lo","type":"quantitative","scale":{"domain":[28.4,82.9],"nice":false,"zero":false},"axis":{"title":"cm","values":[30,40,50,60,70,80],"labelFlush":false,"labelOverlap":false,"titleX":300,"titleY":4,"titleAlign":"left","titleBaseline":"top"}},"x2":{"field":"hi"},
  "y":{"field":"v","type":"quantitative","scale":{"domain":[0,20],"nice":false},"axis":{"title":"%","values":[0,5,10,15,20],"labelExpr":"datum.value % 10 === 0 ? datum.label : ''","titleAngle":0,"titleX":-5,"titleY":-12,"titleAlign":"center","titleBaseline":"middle"}},"y2":{"datum":0}}},
 {"data":{"values":[{}]},"mark":{"type":"rule","color":"#555","strokeWidth":0.8,"strokeDash":[2,2]},"encoding":{"x":{"datum":45,"axis":{"orient":"bottom","values":[30,31,32,33,34,35,36,37,38,39,40,41,42,43,44,45,46,47,48,49,50,51,52,53,54,55,56,57,58,59,60,61,62,63,64,65,66,67,68,69,70,71,72,73,74,75,76,77,78,79,80,81],"labels":false,"domain":false,"title":null}},"y":{"datum":20},"y2":{"datum":-9.8}}},
 {"data":{"values":[{"t":"大不漁年"}]},"mark":{"type":"text","font":"Noto Sans CJK JP","fontSize":11.5,"align":"center"},"encoding":{"x":{"datum":33.2,"axis":null},"y":{"datum":17.6},"text":{"field":"t"}}},
 {"data":{"values":[{"t":"295t"}]},"mark":{"type":"text","font":"Liberation Sans","fontSize":10,"align":"center"},"encoding":{"x":{"datum":34.2,"axis":null},"y":{"datum":14},"text":{"field":"t"}}},
 {"data":{"values":[{"t":"1999.3-5"}]},"mark":{"type":"text"},"encoding":{"x":{"datum":59,"axis":null},"y":{"datum":14.6},"text":{"field":"t"}}},
 {"data":{"values":[{"t":"n:22,745"}]},"mark":{"type":"text"},"encoding":{"x":{"datum":59,"axis":null},"y":{"datum":9.7},"text":{"field":"t"}}},
 {"data":{"values":[{}]},"mark":{"type":"rule","color":"#222","strokeWidth":1.8},"encoding":{"x":{"datum":91,"axis":null},"y":{"datum":25.5},"x2":{"datum":81.5},"y2":{"datum":15.7}}},
 {"data":{"values":[{}]},"mark":{"type":"point","shape":"M0,-1L0.55,1L-0.55,1Z","size":230,"angle":236,"filled":true,"fill":"#555","stroke":"#111","strokeWidth":1,"opacity":1},"encoding":{"x":{"datum":81.5,"axis":null},"y":{"datum":15.7}}}
]},
{"width":308,"height":73,"resolve":{"axis":{"x":"independent"}},"layer":[
 {"data":{"name":"bars"},"transform":[{"filter":"datum.p === 'R6'"},{"bin":{"step":1,"extent":[0,100]},"field":"cm","as":["lo","hi"]}],"mark":{"type":"rect","fill":"#4a4a4a","stroke":"#111","strokeWidth":0.7},
  "encoding":{"x":{"field":"lo","type":"quantitative","scale":{"domain":[17.65,72.15],"nice":false,"zero":false},"axis":{"title":"cm","values":[20,30,40,50,60,70],"labelFlush":false,"labelOverlap":false,"titleX":300,"titleY":4,"titleAlign":"left","titleBaseline":"top"}},"x2":{"field":"hi"},
  "y":{"field":"v","type":"quantitative","scale":{"domain":[0,20],"nice":false},"axis":{"title":"%","values":[0,5,10,15,20],"labelExpr":"datum.value % 10 === 0 ? datum.label : ''","titleAngle":0,"titleX":-5,"titleY":-12,"titleAlign":"center","titleBaseline":"middle"}},"y2":{"datum":0}}},
 {"data":{"values":[{}]},"mark":{"type":"rule","color":"#555","strokeWidth":0.8,"strokeDash":[2,2]},"encoding":{"x":{"datum":38,"axis":{"orient":"bottom","values":[19,20,21,22,23,24,25,26,27,28,29,30,31,32,33,34,35,36,37,38,39,40,41,42,43,44,45,46,47,48,49,50,51,52,53,54,55,56,57,58,59,60,61,62,63,64,65,66,67,68,69,70],"labels":false,"domain":false,"title":null}},"y":{"datum":20},"y2":{"datum":-9.8}}},
 {"data":{"values":[{"t":"1999.9-12"}]},"mark":{"type":"text"},"encoding":{"x":{"datum":53.6,"axis":null},"y":{"datum":17.8},"text":{"field":"t"}}},
 {"data":{"values":[{"t":"n:29,510"}]},"mark":{"type":"text"},"encoding":{"x":{"datum":54.5,"axis":null},"y":{"datum":13.6},"text":{"field":"t"}}},
 {"data":{"values":[{"t":"小型魚大好漁年"}]},"mark":{"type":"text","font":"Noto Sans CJK JP","fontSize":14},"encoding":{"x":{"datum":52.2,"axis":null},"y":{"datum":8.6},"text":{"field":"t"}}},
 {"data":{"values":[{"t":"9-12月 123.2t"}]},"mark":{"type":"text"},"encoding":{"x":{"datum":52.2,"axis":null},"y":{"datum":4.4},"text":{"field":"t"}}}
]},
{"width":308,"height":73,"resolve":{"axis":{"x":"independent"}},"layer":[
 {"data":{"name":"bars"},"transform":[{"filter":"datum.p === 'L7'"},{"bin":{"step":1,"extent":[0,100]},"field":"cm","as":["lo","hi"]}],"mark":{"type":"rect","fill":"#4a4a4a","stroke":"#111","strokeWidth":0.7},
  "encoding":{"x":{"field":"lo","type":"quantitative","scale":{"domain":[28.4,82.9],"nice":false,"zero":false},"axis":{"title":"cm","values":[30,40,50,60,70,80],"labelFlush":false,"labelOverlap":false,"titleX":300,"titleY":4,"titleAlign":"left","titleBaseline":"top"}},"x2":{"field":"hi"},
  "y":{"field":"v","type":"quantitative","scale":{"domain":[0,20],"nice":false},"axis":{"title":"%","values":[0,5,10,15,20],"labelExpr":"datum.value % 10 === 0 ? datum.label : ''","titleAngle":0,"titleX":-5,"titleY":-12,"titleAlign":"center","titleBaseline":"middle"}},"y2":{"datum":0}}},
 {"data":{"values":[{}]},"mark":{"type":"rule","color":"#555","strokeWidth":0.8,"strokeDash":[2,2]},"encoding":{"x":{"datum":45,"axis":{"orient":"bottom","values":[30,31,32,33,34,35,36,37,38,39,40,41,42,43,44,45,46,47,48,49,50,51,52,53,54,55,56,57,58,59,60,61,62,63,64,65,66,67,68,69,70,71,72,73,74,75,76,77,78,79,80,81],"labels":false,"domain":false,"title":null}},"y":{"datum":20},"y2":{"datum":-9.8}}},
 {"data":{"values":[{"t":"早期好漁年"}]},"mark":{"type":"text","font":"Noto Sans CJK JP","fontSize":11.5,"align":"center"},"encoding":{"x":{"datum":34.8,"axis":null},"y":{"datum":17.1},"text":{"field":"t"}}},
 {"data":{"values":[{"t":"1,518t"}]},"mark":{"type":"text","font":"Liberation Sans","fontSize":10,"align":"center"},"encoding":{"x":{"datum":34.6,"axis":null},"y":{"datum":13.3},"text":{"field":"t"}}},
 {"data":{"values":[{"t":"2000.3-5"}]},"mark":{"type":"text"},"encoding":{"x":{"datum":58.7,"axis":null},"y":{"datum":15},"text":{"field":"t"}}},
 {"data":{"values":[{"t":"n:42,708"}]},"mark":{"type":"text"},"encoding":{"x":{"datum":58.7,"axis":null},"y":{"datum":11},"text":{"field":"t"}}},
 {"data":{"values":[{}]},"mark":{"type":"rule","color":"#222","strokeWidth":1.8},"encoding":{"x":{"datum":91,"axis":null},"y":{"datum":25.5},"x2":{"datum":81.5},"y2":{"datum":15.7}}},
 {"data":{"values":[{}]},"mark":{"type":"point","shape":"M0,-1L0.55,1L-0.55,1Z","size":230,"angle":236,"filled":true,"fill":"#555","stroke":"#111","strokeWidth":1,"opacity":1},"encoding":{"x":{"datum":81.5,"axis":null},"y":{"datum":15.7}}}
]},
{"width":308,"height":73,"resolve":{"axis":{"x":"independent"}},"layer":[
 {"data":{"name":"bars"},"transform":[{"filter":"datum.p === 'R7'"},{"bin":{"step":1,"extent":[0,100]},"field":"cm","as":["lo","hi"]}],"mark":{"type":"rect","fill":"white","stroke":"black","strokeWidth":0.7},
  "encoding":{"x":{"field":"lo","type":"quantitative","scale":{"domain":[17.65,72.15],"nice":false,"zero":false},"axis":{"title":"cm","values":[20,30,40,50,60,70],"labelFlush":false,"labelOverlap":false,"titleX":300,"titleY":4,"titleAlign":"left","titleBaseline":"top"}},"x2":{"field":"hi"},
  "y":{"field":"v","type":"quantitative","scale":{"domain":[0,20],"nice":false},"axis":{"title":"%","values":[0,5,10,15,20],"labelExpr":"datum.value % 10 === 0 ? datum.label : ''","titleAngle":0,"titleX":-5,"titleY":-12,"titleAlign":"center","titleBaseline":"middle"}},"y2":{"datum":0}}},
 {"data":{"values":[{}]},"mark":{"type":"rule","color":"#555","strokeWidth":0.8,"strokeDash":[2,2]},"encoding":{"x":{"datum":38,"axis":{"orient":"bottom","values":[19,20,21,22,23,24,25,26,27,28,29,30,31,32,33,34,35,36,37,38,39,40,41,42,43,44,45,46,47,48,49,50,51,52,53,54,55,56,57,58,59,60,61,62,63,64,65,66,67,68,69,70],"labels":false,"domain":false,"title":null}},"y":{"datum":20},"y2":{"datum":-9.8}}},
 {"data":{"values":[{"t":"2000.9-12"}]},"mark":{"type":"text"},"encoding":{"x":{"datum":56.6,"axis":null},"y":{"datum":18.5},"text":{"field":"t"}}},
 {"data":{"values":[{"t":"n:8,695"}]},"mark":{"type":"text"},"encoding":{"x":{"datum":59.3,"axis":null},"y":{"datum":14.5},"text":{"field":"t"}}},
 {"data":{"values":[{"t":"中型魚好漁年"}]},"mark":{"type":"text","font":"Noto Sans CJK JP","fontSize":14},"encoding":{"x":{"datum":53.4,"axis":null},"y":{"datum":9.7},"text":{"field":"t"}}},
 {"data":{"values":[{"t":"9-12月 87.6t"}]},"mark":{"type":"text"},"encoding":{"x":{"datum":53.4,"axis":null},"y":{"datum":5.3},"text":{"field":"t"}}}
]},
{"width":308,"height":73,"resolve":{"axis":{"x":"independent"}},"layer":[
 {"data":{"name":"bars"},"transform":[{"filter":"datum.p === 'L8'"},{"bin":{"step":1,"extent":[0,100]},"field":"cm","as":["lo","hi"]}],"mark":{"type":"rect","fill":"white","stroke":"black","strokeWidth":0.7},
  "encoding":{"x":{"field":"lo","type":"quantitative","scale":{"domain":[28.4,82.9],"nice":false,"zero":false},"axis":{"title":"cm","values":[30,40,50,60,70,80],"labelFlush":false,"labelOverlap":false,"titleX":300,"titleY":4,"titleAlign":"left","titleBaseline":"top"}},"x2":{"field":"hi"},
  "y":{"field":"v","type":"quantitative","scale":{"domain":[0,20],"nice":false},"axis":{"title":"%","values":[0,5,10,15,20],"labelExpr":"datum.value % 10 === 0 ? datum.label : ''","titleAngle":0,"titleX":-5,"titleY":-12,"titleAlign":"center","titleBaseline":"middle"}},"y2":{"datum":0}}},
 {"data":{"values":[{}]},"mark":{"type":"rule","color":"#555","strokeWidth":0.8,"strokeDash":[2,2]},"encoding":{"x":{"datum":45,"axis":{"orient":"bottom","values":[30,31,32,33,34,35,36,37,38,39,40,41,42,43,44,45,46,47,48,49,50,51,52,53,54,55,56,57,58,59,60,61,62,63,64,65,66,67,68,69,70,71,72,73,74,75,76,77,78,79,80,81],"labels":false,"domain":false,"title":null}},"y":{"datum":20},"y2":{"datum":-3.5}}},
 {"data":{"values":[{"t":"不漁年"}]},"mark":{"type":"text","font":"Noto Sans CJK JP","fontSize":11.5,"align":"center"},"encoding":{"x":{"datum":32.3,"axis":null},"y":{"datum":17.1},"text":{"field":"t"}}},
 {"data":{"values":[{"t":"914t"}]},"mark":{"type":"text","font":"Liberation Sans","fontSize":10,"align":"center"},"encoding":{"x":{"datum":33,"axis":null},"y":{"datum":13.4},"text":{"field":"t"}}},
 {"data":{"values":[{"t":"2001.3-5"}]},"mark":{"type":"text"},"encoding":{"x":{"datum":58.7,"axis":null},"y":{"datum":15.2},"text":{"field":"t"}}},
 {"data":{"values":[{"t":"n:42,471"}]},"mark":{"type":"text"},"encoding":{"x":{"datum":58.7,"axis":null},"y":{"datum":11},"text":{"field":"t"}}},
 {"data":{"values":[{"t":"45cm"}]},"mark":{"type":"text","font":"Liberation Serif","fontWeight":"bold","fontSize":12,"align":"center"},"encoding":{"x":{"datum":45,"axis":null},"y":{"datum":-5.6},"text":{"field":"t"}}},
 {"data":{"values":[{}]},"mark":{"type":"rule","color":"#222","strokeWidth":1.8},"encoding":{"x":{"datum":91,"axis":null},"y":{"datum":25.5},"x2":{"datum":81.5},"y2":{"datum":15.7}}},
 {"data":{"values":[{}]},"mark":{"type":"point","shape":"M0,-1L0.55,1L-0.55,1Z","size":230,"angle":236,"filled":true,"fill":"#555","stroke":"#111","strokeWidth":1,"opacity":1},"encoding":{"x":{"datum":81.5,"axis":null},"y":{"datum":15.7}}}
]},
{"width":308,"height":73,"resolve":{"axis":{"x":"independent"}},"layer":[
 {"data":{"name":"bars"},"transform":[{"filter":"datum.p === 'R8'"},{"bin":{"step":1,"extent":[0,100]},"field":"cm","as":["lo","hi"]}],"mark":{"type":"rect","fill":"#4a4a4a","stroke":"#111","strokeWidth":0.7},
  "encoding":{"x":{"field":"lo","type":"quantitative","scale":{"domain":[17.65,72.15],"nice":false,"zero":false},"axis":{"title":"cm","values":[20,30,40,50,60,70],"labelFlush":false,"labelOverlap":false,"titleX":300,"titleY":4,"titleAlign":"left","titleBaseline":"top"}},"x2":{"field":"hi"},
  "y":{"field":"v","type":"quantitative","scale":{"domain":[0,20],"nice":false},"axis":{"title":"%","values":[0,5,10,15,20],"labelExpr":"datum.value % 10 === 0 ? datum.label : ''","titleAngle":0,"titleX":-5,"titleY":-12,"titleAlign":"center","titleBaseline":"middle"}},"y2":{"datum":0}}},
 {"data":{"values":[{}]},"mark":{"type":"rule","color":"#555","strokeWidth":0.8,"strokeDash":[2,2]},"encoding":{"x":{"datum":38,"axis":{"orient":"bottom","values":[19,20,21,22,23,24,25,26,27,28,29,30,31,32,33,34,35,36,37,38,39,40,41,42,43,44,45,46,47,48,49,50,51,52,53,54,55,56,57,58,59,60,61,62,63,64,65,66,67,68,69,70],"labels":false,"domain":false,"title":null}},"y":{"datum":20},"y2":{"datum":-3.5}}},
 {"data":{"values":[{"t":"2001.9-12"}]},"mark":{"type":"text"},"encoding":{"x":{"datum":57.1,"axis":null},"y":{"datum":17.5},"text":{"field":"t"}}},
 {"data":{"values":[{"t":"n:2,798"}]},"mark":{"type":"text"},"encoding":{"x":{"datum":57.1,"axis":null},"y":{"datum":13.2},"text":{"field":"t"}}},
 {"data":{"values":[{"t":"9-12月 10.9t"}]},"mark":{"type":"text"},"encoding":{"x":{"datum":54.3,"axis":null},"y":{"datum":6.8},"text":{"field":"t"}}},
 {"data":{"values":[{"t":"38cm"}]},"mark":{"type":"text","font":"Liberation Serif","fontWeight":"bold","fontSize":12,"align":"center"},"encoding":{"x":{"datum":38,"axis":null},"y":{"datum":-5.6},"text":{"field":"t"}}}
]}
]
}
